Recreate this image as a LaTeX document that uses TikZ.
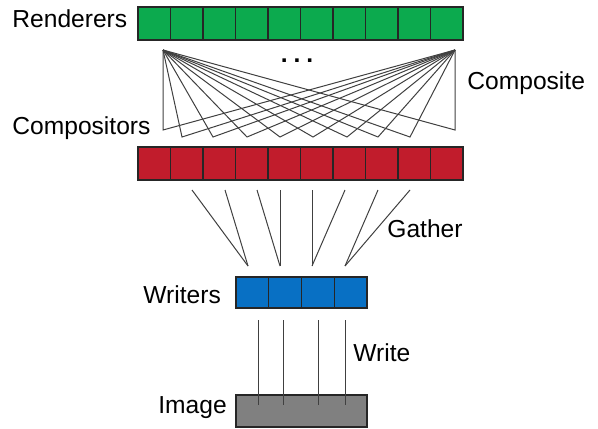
\documentclass[tikz,border=0pt]{standalone}
\usepackage{fontspec}
\setmainfont{Liberation Sans}
\usepackage{xcolor}
\usetikzlibrary{calc}

\definecolor{rendgreen}{RGB}{12,170,78}
\definecolor{compred}{RGB}{193,28,44}
\definecolor{writeblue}{RGB}{8,112,196}
\definecolor{imggray}{RGB}{128,128,128}

\tikzset{
    cell/.style={rectangle, draw=black!85, line width=0.6pt, inner sep=0pt, outer sep=0pt, minimum height=16.5pt},
    label/.style={anchor=west, inner sep=0pt, font=\fontsize{12.3}{14}\selectfont},
    link/.style={draw=black!75, line width=0.5pt}
}

\begin{document}
\begin{tikzpicture}[x=0.5pt, y=-0.5pt]
        \useasboundingbox (0,0) rectangle (598,428);

        %% Renderers
        \foreach \i in {1,...,10}
            \node (rend\i) [cell, fill=rendgreen, minimum width=16.25pt] at ({138+32.5*(\i-0.5)},23.5) {};

        %% Compositors
        \foreach \i in {1,...,10}
            \node (comp\i) [cell, fill=compred, minimum width=16.25pt] at ({138+32.5*(\i-0.5)},163.5) {};

        %% Writers
        \foreach \i in {1,...,4}
            \node (writer\i) [cell, fill=writeblue, minimum width=16.375pt, minimum height=15.5pt] at ({236+32.75*(\i-0.5)},292.5) {};

        %% Image
        \node (image) [cell, fill=imggray, minimum width=65.5pt, minimum height=16pt] at (301.5,411) {};

        %% Labels
        \node (renderers) [label] at (12,19) {Renderers};
        \node (compositors) [label] at (12,128) {Compositors};
        \node (composite) [label] at (467,83) {Composite};
        \node (gather) [label] at (387,229) {Gather};
        \node (writers) [label] at (143,295) {Writers};
        \node (write) [label] at (353,353) {Write};
        \node (imagelabel) [label] at (158,408) {Image};
        \node (dots) [font=\fontsize{12.3}{14}\selectfont, inner sep=0pt] at (297,61) {\textbf{.}\hspace{3pt}\textbf{.}\hspace{3pt}\textbf{.}};

        %% Composite
        \coordinate (apexL) at (163,50);
        \coordinate (apexR) at (455,50);
        \foreach \x/\y [count=\i] in {163/130, 182/137, 213/137, 247/137, 280/137, 313/137, 347/137, 378/137, 410/137, 455/130}
            \coordinate (foot\i) at (\x,\y);
        \foreach \i in {1,...,10}
            \draw [link] (apexL) -- (foot\i) -- (apexR);

        %% Gather
        \foreach \x [count=\i] in {192, 225, 257, 280, 312, 345, 378, 410}
            \coordinate (src\i) at (\x,190);
        \foreach \x [count=\i] in {248, 280, 312, 345}
            \coordinate (dst\i) at (\x,266);
        \draw [link] (src1) -- (dst1);
        \draw [link] (src2) -- (dst1);
        \draw [link] (src3) -- (dst2);
        \draw [link] (src4) -- (dst2);
        \draw [link] (src5) -- (dst3);
        \draw [link] (src6) -- (dst3);
        \draw [link] (src7) -- (dst4);
        \draw [link] (src8) -- (dst4);

        %% Write
        \foreach \x [count=\i] in {258, 283, 318, 345} {
            \coordinate (wtop\i) at (\x,320);
            \coordinate (wbot\i) at (\x,405);
            \draw [link] (wtop\i) -- (wbot\i);
        }

    \end{tikzpicture}
\end{document}
